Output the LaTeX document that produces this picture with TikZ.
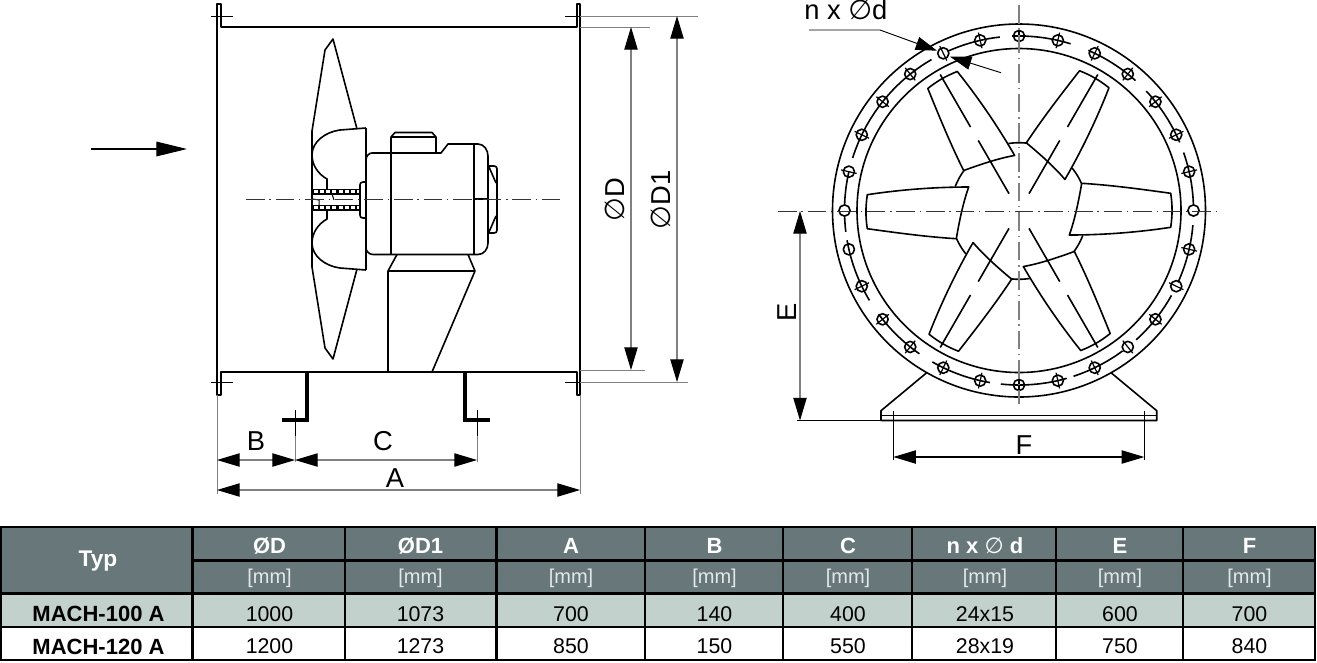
\documentclass[tikz,border=0pt]{standalone}
\usepackage{fontspec}
\setmainfont{Liberation Sans}
\newfontfamily\djv{DejaVu Sans}
\usetikzlibrary{arrows.meta}
\definecolor{headgray}{HTML}{68787A}
\definecolor{rowgray}{HTML}{C3D1CD}
\definecolor{dimgray}{HTML}{808080}
\definecolor{headtext}{HTML}{E4E8E8}
\newcommand{\fsz}[1]{\fontsize{#1}{#1}\selectfont}
\newcommand{\dia}{{\djv\symbol{"2205}}}
\tikzset{
  outline/.style={line width=1.2pt,line join=round,black},
  thick outline/.style={line width=2.3pt,black},
  thin outline/.style={line width=0.75pt,black},
  centre/.style={line width=0.7pt,dash pattern=on 14pt off 3.6pt on 1pt off 3.6pt},
  dimline/.style={line width=0.8pt,dimgray,{Triangle[length=17pt,width=10pt,black]}-{Triangle[length=17pt,width=10pt,black]}},
  extline/.style={line width=0.7pt,dimgray},
  leader/.style={line width=0.7pt,black},
  draw label/.style={font=\fsz{20.5}},
  tablerule/.style={line width=1.8pt,black},
  head/.style={font=\fsz{16.5}\bfseries,text=white},
  unit/.style={font=\fsz{15},text=headtext},
  val/.style={font=\fsz{16},text=black},
  rowname/.style={font=\fsz{16.5}\bfseries,text=black}
}
\begin{document}
\begin{tikzpicture}[x=0.75pt,y=-0.75pt]
\useasboundingbox (0,0) rectangle (1317,662);
% ---------- side view: casing
\draw[outline] (217,395) -- (217,4) -- (221,4) -- (221,27) -- (577,27) -- (577,4) -- (580,4) -- (580,395) -- (577,395) -- (577,372) -- (221,372) -- (221,395) -- cycle;
\draw[thin outline] (211,16) -- (233,16);
\draw[thin outline] (211,382) -- (233,382);
\draw[thin outline] (565,16) -- (590,16);
\draw[thin outline] (565,382) -- (590,382);
% feet
\draw[thick outline] (307,372) -- (307,420) -- (282,420);
\draw[thick outline] (465,372) -- (465,420) -- (490,420);
\draw[thin outline] (295,410) -- (295,436);
\draw[thin outline] (477,410) -- (477,436);
% blade
\draw[outline] (312,155) -- (312,131) -- (325,50) -- (333,39) -- (357,129);
\draw[outline] (312,243) -- (312,267) -- (325,348) -- (333,359) -- (357,269);
% hub
\draw[outline] (366,128) -- (340,130) .. controls (325,132) and (312,142) .. (312,155) .. controls (312,165) and (318,174) .. (327,179) -- (327,189);
\draw[outline] (366,270) -- (340,268) .. controls (325,266) and (312,256) .. (312,243) .. controls (312,233) and (318,224) .. (327,219) -- (327,209);
\draw[outline] (312,155) -- (312,243);
\draw[outline] (366,128) -- (366,270);
% shaft
\draw[outline,fill=black] (313,189.5) rectangle (360,194);
\draw[outline,fill=black] (313,205.5) rectangle (360,210);
\draw[white,line width=2pt,dash pattern=on 3pt off 1.6pt] (314,191.8) -- (359,191.8);
\draw[white,line width=2pt,dash pattern=on 3pt off 1.6pt] (314,207.8) -- (359,207.8);
\draw[thin outline] (313,199) -- (319,200) -- (319,205);
\draw[thin outline] (332,194) -- (334,200);
\draw[outline] (366,182) -- (363,182) .. controls (361,182) and (360,183) .. (360,185) -- (360,215) .. controls (360,217) and (361,218) .. (363,218) -- (366,218);
% motor
\draw[outline] (372,153) -- (441,153) -- (448,144) -- (478,144) .. controls (484,144) and (488,150) .. (488,156) -- (488,243) .. controls (488,249) and (484,254.5) .. (478,254.5) -- (373,254.5) .. controls (369,254.5) and (366,251) .. (366,248) -- (366,160) .. controls (366,156) and (369,153) .. (372,153) -- cycle;
\draw[outline] (391,153) -- (391,137) -- (395,132.5) -- (432,132.5) -- (436,137) -- (436,153);
\draw[outline] (391,137) -- (436,137);
\draw[outline] (391,153) -- (391,254.5);
\draw[outline] (474,144) -- (474,254.5);
\draw[outline] (474,199) -- (488,199);
\draw[outline] (488,166) -- (494,166) .. controls (496,166) and (497,167) .. (497,169) -- (497,230) .. controls (497,232) and (496,233) .. (494,233) -- (488,233);
\draw[outline] (489,167) -- (496,183);
\draw[outline] (489,232) -- (496,216);
% stand
\draw[outline] (397,254.5) -- (388,271) -- (388,372);
\draw[outline] (468,254.5) -- (475,271) -- (432,372);
\draw[outline] (388,271) -- (475,271);
% centre line side view
\coordinate (sideL) at (246,199);
\coordinate (sideR) at (560,199);
\draw[centre,black!80] (sideL) -- (sideR);
% flow arrow
\coordinate (flowA) at (91,149);
\coordinate (flowB) at (187,149);
\draw[line width=0.9pt,black,-{Triangle[length=23pt,width=11pt]}] (flowA) -- (flowB);
% side view dimensions
\draw[extline] (217,395) -- (217,494);
\draw[extline] (580,395) -- (580,494);
\draw[extline] (295,436) -- (295,462);
\draw[extline] (477,436) -- (477,462);
\draw[extline] (580,16) -- (698,16);
\draw[extline] (580,27) -- (650,27);
\draw[extline] (580,370) -- (645,370);
\draw[extline] (580,382) -- (688,382);
\coordinate (bL) at (217,460);
\coordinate (bR) at (295,460);
\coordinate (cR) at (477,460);
\coordinate (aL) at (217,490);
\coordinate (aR) at (580,490);
\coordinate (dT) at (631,27);
\coordinate (dB) at (631,370);
\coordinate (dOneT) at (677,16);
\coordinate (dOneB) at (677,382);
\draw[dimline] (bL) -- (bR);
\draw[dimline] (bR) -- (cR);
\draw[dimline] (aL) -- (aR);
\draw[dimline] (dT) -- (dB);
\draw[dimline] (dOneT) -- (dOneB);
\node[draw label] (lblB) at (256,441) {B};
\node[draw label] (lblC) at (383,441) {C};
\node[draw label] (lblA) at (395,478) {A};
\node[draw label,rotate=90] (lblD) at (615,200) {\dia D};
\node[draw label,rotate=90] (lblDone) at (661,200) {\dia D1};
% ---------- front view
\draw[outline] (1019,210.5) circle (186.5);
\draw[outline] (1019,210.5) circle (162);
% bolts
\foreach \k in {0,...,27}{
  \pgfmathsetmacro\th{\k*360/28}
  \draw[outline] ({1019+174.5*sin(\th)},{210.5-174.5*cos(\th)}) circle (5.6);
}
\foreach \k in {0,1,2,3,4,5,6,8,9,10,11,12,13,14,15,16,17,18,19,22,23,24,25,26,27}{
  \pgfmathsetmacro\th{\k*360/28}
  \draw[thin outline,line width=0.9pt] ({1019+166.5*sin(\th)},{210.5-166.5*cos(\th)}) -- ({1019+182.5*sin(\th)},{210.5-182.5*cos(\th)});
}
\draw[thin outline,line width=0.9pt] (1012,36) -- (1026,36);
% bolt ring segments
\foreach \a/\b in {0/17.2,23.4/41.9,46.8/67,70.6/88.1,94.8/114.3,119.1/137.8,143.6/161.8,164.1/186,189.6/209.8,214.8/233.5,239/260.2,263/268.1,271.9/283,287.5/329.9,336/353.7}{
  \draw[outline,domain=\a:\b,samples=16,variable=\t] plot ({1019+174.5*sin(\t)},{210.5-174.5*cos(\t)});
}
% blades and hub arcs
\foreach \r in {0,60,...,300}{
  \begin{scope}[rotate around={\r:(1019,211)}]
    \draw[outline] (1081.7,183.3) .. controls (1110,185) and (1140,189) .. (1170.7,193.3) .. controls (1172.5,205) and (1172.5,215) .. (1170.7,227.3) .. controls (1140,232) and (1105,235) .. (1069.3,235) .. controls (1074,222) and (1078,205) .. cycle;
    \draw[outline,domain=23.8:39,samples=8,variable=\t] plot ({1019+68.3*cos(\t)},{211-68.3*sin(\t)});
  \end{scope}
}
% blade axis lines
\foreach \r in {60,120,240,300}{
  \begin{scope}[rotate around={\r:(1019,211)}]
    \draw[outline] (1039,211) -- (1100.5,211);
    \draw[outline] (1116,211) -- (1176.6,211);
  \end{scope}
}
% base
\draw[outline] (926.7,372.7) -- (881,410.7) -- (881,420.5) -- (1156.7,420.5) -- (1156.7,410.7) -- (1111,372.7);
\draw[outline] (881,415.3) -- (1156.7,415.3);
% centre lines
\coordinate (vT) at (1019,5);
\coordinate (vB) at (1019,404);
\coordinate (hL) at (778,211);
\coordinate (hR) at (1217,211);
\draw[centre,black!50,line width=0.9pt] (vT) -- (vB);
\draw[centre,black!80] (hL) -- (hR);
% front view dimensions
\draw[leader] (797,420.5) -- (881,420.5);
\draw[leader] (893.3,411) -- (893.3,460);
\draw[leader] (1144.3,411) -- (1144.3,460);
\coordinate (eT) at (800,211);
\coordinate (eB) at (800,420.5);
\coordinate (fL) at (893.3,457);
\coordinate (fR) at (1144.3,457);
\draw[dimline] (eT) -- (eB);
\draw[dimline,black] (fL) -- (fR);
\node[draw label,rotate=90] (lblE) at (787,312) {E};
\node[draw label] (lblF) at (1024,445) {F};
% n x d leader
\node[draw label,anchor=west,inner sep=0pt] (lblN) at (804,10) {n x \dia d};
\coordinate (ldA) at (809,30);
\coordinate (ldB) at (880,30);
\coordinate (ldC) at (937,50.7);
\coordinate (ldD) at (1001,72.7);
\coordinate (ldE) at (950,56.7);
\draw[leader,-{Triangle[length=16pt,width=10pt]}] (ldA) -- (ldB) -- (ldC);
\draw[leader,-{Triangle[length=16pt,width=10pt]}] (ldD) -- (ldE);
% ---------- table
\fill[headgray] (1,527) rectangle (1315,593.5);
\fill[rowgray] (1,593.5) rectangle (1315,627);
\fill[white] (1,627) rectangle (1315,660);
\foreach \y in {527,593.5,627,660}{ \draw[tablerule] (0.5,\y) -- (1315.5,\y); }
\draw[tablerule] (192,560.5) -- (1315.5,560.5);
\foreach \x in {1,192.5,345,496.5,645,783,912,1056,1183,1315}{ \draw[tablerule] (\x,526) -- (\x,661); }
\node[head,font=\fsz{17}\bfseries] (typ) at (98,561) {Typ};
\foreach \i/\x/\h/\p/\q in {
  a/269.5/\O D/1000/1200,
  b/420.5/\O D1/1073/1273,
  c/571/A/700/850,
  d/714.5/B/140/150,
  e/848/C/400/550,
  f/985/{n x {\djv\mdseries\symbol{"2205}} d}/24x15/28x19,
  g/1120/E/600/750,
  h/1249.5/F/700/840}{
  \node[head] (h\i) at (\x,546) {\h};
  \node[unit] (u\i) at (\x,578.5) {[mm]};
  \node[val] (p\i) at (\x,614) {\p};
  \node[val] (q\i) at (\x,646.5) {\q};
}
\node[rowname] (mone) at (98.5,614) {MACH-100 A};
\node[rowname] (mtwo) at (98.5,646.5) {MACH-120 A};
\end{tikzpicture}
\end{document}
